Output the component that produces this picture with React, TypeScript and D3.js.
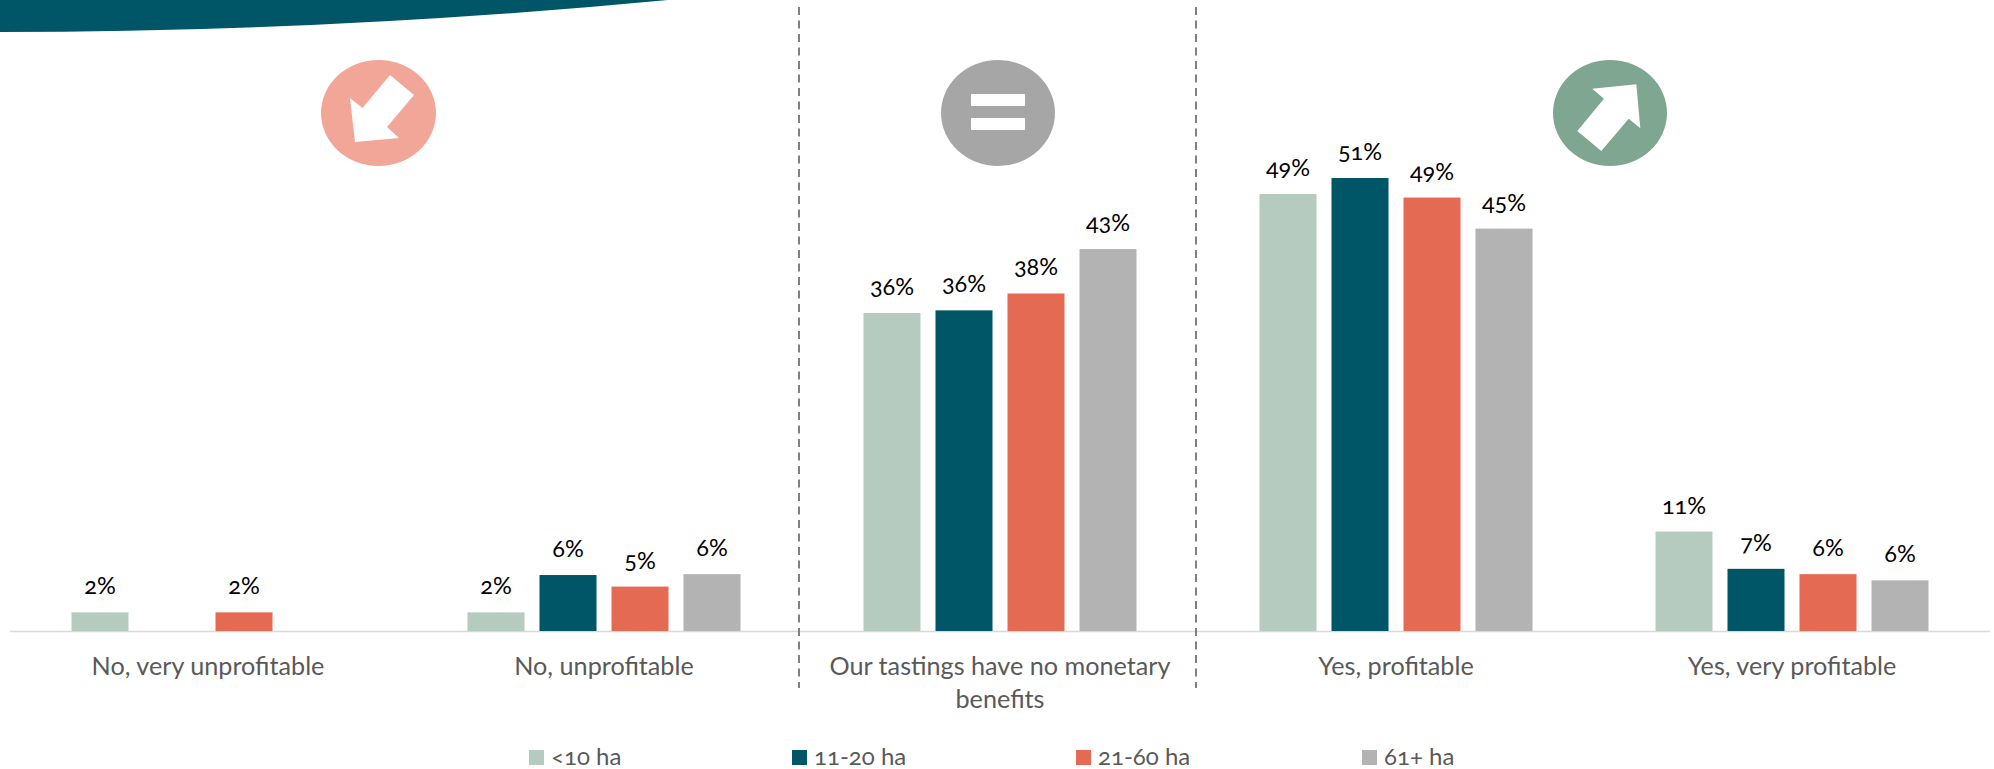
import React from 'react';
import * as d3 from 'd3';

const categories = ['No, very unprofitable', 'No, unprofitable', 'Our tastings have no monetary benefits', 'Yes, profitable', 'Yes, very profitable'];
const seriesNames = ['<10 ha', '11-20 ha', '21-60 ha', '61+ ha'];
const seriesColors = ['#B5CBBF', '#005566', '#E56A54', '#B3B3B3'];
const under10 = [2.1, 2.1, 35.8, 49.2, 11.2];
const ha11to20 = [null, 6.3, 36.1, 51, 7];
const ha21to60 = [2.1, 5, 38, 48.8, 6.4];
const ha61plus = [null, 6.4, 43, 45.3, 5.7];
const labelsA = ['2%', '2%', '36%', '49%', '11%'];
const labelsB = ['', '6%', '36%', '51%', '7%'];
const labelsC = ['2%', '5%', '38%', '49%', '6%'];
const labelsD = ['', '6%', '43%', '45%', '6%'];
const series = [under10, ha11to20, ha21to60, ha61plus];
const labels = [labelsA, labelsB, labelsC, labelsD];
const legendX = [529, 792, 1076, 1362];

const FONT = 'Lato, "Open Sans", sans-serif';

export default function App() {
  const x0 = d3.scaleBand<number>().domain(d3.range(5)).range([10, 1990]);
  const step = 72;
  const barW = 57;
  const y = d3.scaleLinear().domain([0, 51]).range([631, 178]);
  const groupLeft = (i: number) => (x0(i) as number) + (x0.bandwidth() - (3 * step + barW)) / 2;
  const banner = d3.path();
  banner.moveTo(0, 0);
  banner.lineTo(0, 32);
  banner.quadraticCurveTo(332, 32, 668, 0);
  banner.closePath();
  return (
    <svg width={1994} height={769} style={{ position: 'absolute', left: 0, top: 0, background: '#fff' }} fontFamily={FONT}>
      <path d={banner.toString()} fill="#005566" />
      <ellipse cx={378.5} cy={113} rx={57.5} ry={53} fill="#F2A698" />
      <polygon points="390,75 414,95 387,127 399,138 355,142 350,98 362.5,108" fill="#fff" />
      <ellipse cx={998} cy={113} rx={57} ry={53} fill="#A6A6A6" />
      <rect x={971} y={94} width={54} height={12} fill="#fff" />
      <rect x={971} y={118} width={54} height={12} fill="#fff" />
      <ellipse cx={1610} cy={113} rx={57} ry={53} fill="#7FA690" />
      <polygon points="1592.3,88.7 1636.3,84.3 1640.3,128.3 1628.7,118.7 1601.3,151 1577.3,131 1604,98.7" fill="#fff" />
      <line x1={10} x2={1990} y1={631.5} y2={631.5} stroke="#D9D9D9" strokeWidth={1.5} />
      {[799, 1196].map((lx) => (
        <line key={lx} x1={lx} x2={lx} y1={7} y2={688} stroke="#808080" strokeWidth={2} strokeDasharray="8 5.5" />
      ))}
      {series.map((vals, s) => vals.map((v, i) => v == null ? null : (
        <g key={`${s}-${i}`}>
          <rect x={groupLeft(i) + s * step} y={y(v)} width={barW} height={631 - y(v)} fill={seriesColors[s]} />
          <text x={groupLeft(i) + s * step + barW / 2} y={y(v) - 18} textAnchor="middle" fontSize={23.5} fill="#000" style={{ fontFeatureSettings: '"onum"' }}>{labels[s][i]}</text>
        </g>
      )))}
      {categories.map((c, i) => {
        const cx = (x0(i) as number) + x0.bandwidth() / 2;
        const lines = i === 2 ? ['Our tastings have no monetary', 'benefits'] : [c];
        return lines.map((l, j) => (
          <text key={l} x={cx} y={675 + j * 33} textAnchor="middle" fontSize={25.2} fill="#595959">{l}</text>
        ));
      })}
      {seriesNames.map((n, s) => (
        <g key={n}>
          <rect x={legendX[s]} y={750} width={15} height={15} fill={seriesColors[s]} />
          <text x={legendX[s] + 22} y={765} fontSize={24} fill="#595959" style={{ fontFeatureSettings: '"onum"' }}>{n}</text>
        </g>
      ))}
    </svg>
  );
}
